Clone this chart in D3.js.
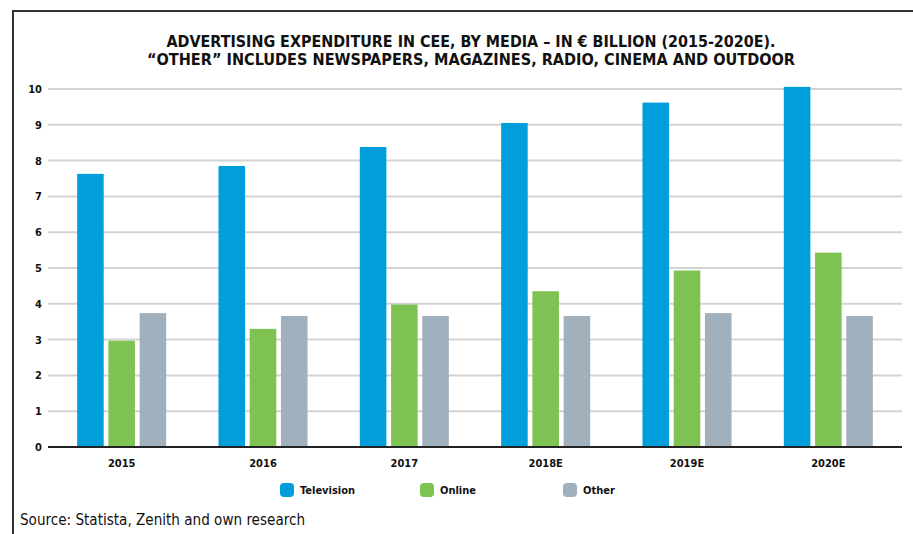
<!DOCTYPE html>
<html><head><meta charset="utf-8">
<script src="https://cdn.jsdelivr.net/npm/d3@7"></script>
<style>
html,body{margin:0;padding:0;background:#fff;}
svg{display:block;}
text{font-family:"Liberation Sans Narrow","DejaVu Sans Condensed","Roboto",sans-serif;}
</style></head>
<body>
<script>
const years = ["2015","2016","2017","2018E","2019E","2020E"];
const seriesNames = ["Television","Online","Other"];
const television = [7.63, 7.85, 8.38, 9.05, 9.62, 10.06];
const online = [2.97, 3.30, 3.98, 4.35, 4.93, 5.43];
const other = [3.74, 3.66, 3.66, 3.66, 3.74, 3.66];
const yTicks = [0,1,2,3,4,5,6,7,8,9,10];
const colors = ["#009fdb","#7dc253","#a0b1bd"];
const titleLines = ["ADVERTISING EXPENDITURE IN CEE, BY MEDIA – IN € BILLION (2015-2020E).",
                    "“OTHER” INCLUDES NEWSPAPERS, MAGAZINES, RADIO, CINEMA AND OUTDOOR"];
const sourceText = "Source: Statista, Zenith and own research";

const W = 913, H = 534;
const svg = d3.select("body").append("svg").attr("width", W).attr("height", H);

// frame
svg.append("line").attr("x1",13).attr("x2",913).attr("y1",11).attr("y2",11)
  .attr("stroke","#333").attr("stroke-width",2);
svg.append("line").attr("x1",13).attr("x2",13).attr("y1",10).attr("y2",534)
  .attr("stroke","#333").attr("stroke-width",2);

// title
const tl = [{y:47,len:609},{y:65,len:648}];
titleLines.forEach((t,i)=>{
  svg.append("text").attr("x",471).attr("y",tl[i].y).attr("text-anchor","middle")
    .attr("font-size",15).attr("font-weight","bold").attr("fill","#111")
    .attr("textLength",tl[i].len).attr("lengthAdjust","spacingAndGlyphs").text(t);
});

const gx0 = 48, gx1 = 902;
const x = d3.scaleBand().domain(years).range([51,899]).paddingInner(0.37).paddingOuter(0.185);
const xs = d3.scaleBand().domain(seriesNames).range([0,x.bandwidth()]).paddingInner(0.15).paddingOuter(0);
const y = d3.scaleLinear().domain([0,10]).range([447,89]);

// grid
svg.append("g").selectAll("line").data(yTicks.filter(d=>d>0)).join("line")
  .attr("x1",gx0).attr("x2",gx1).attr("y1",d=>y(d)).attr("y2",d=>y(d))
  .attr("stroke","#d3d3d3").attr("stroke-width",2);

// y axis labels
const yAxis = d3.axisLeft(y).tickValues(yTicks).tickSize(0).tickPadding(6);
const ya = svg.append("g").attr("transform",`translate(${gx0},0)`).call(yAxis);
ya.select(".domain").remove();
ya.selectAll("text").attr("font-size",11).attr("font-weight","bold").attr("fill","#111")
  .style("font-family",'"Liberation Sans Narrow","DejaVu Sans Condensed",sans-serif');

// bars
const data = years.map((yr,i)=>({year:yr, values:[television[i],online[i],other[i]]}));
const g = svg.append("g");
data.forEach(d=>{
  g.append("g").attr("transform",`translate(${x(d.year)},0)`)
   .selectAll("rect").data(d.values.map((v,j)=>({k:seriesNames[j],v,j}))).join("rect")
   .attr("x",e=>xs(e.k)).attr("width",xs.bandwidth())
   .attr("y",e=>y(e.v)).attr("height",e=>y(0)-y(e.v))
   .attr("fill",e=>colors[e.j]);
});

// baseline
svg.append("line").attr("x1",gx0).attr("x2",gx1).attr("y1",y(0)).attr("y2",y(0))
  .attr("stroke","#222").attr("stroke-width",2);

// x axis labels
const xAxis = d3.axisBottom(x).tickSize(0).tickPadding(12);
const xa = svg.append("g").attr("transform",`translate(0,${y(0)})`).call(xAxis);
xa.select(".domain").remove();
xa.selectAll("text").attr("font-size",11).attr("font-weight","bold").attr("fill","#111")
  .style("font-family",'"Liberation Sans Narrow","DejaVu Sans Condensed",sans-serif');

// legend
const legX = [280,420,563];
const lg = svg.append("g");
seriesNames.forEach((n,i)=>{
  lg.append("rect").attr("x",legX[i]).attr("y",483).attr("width",14).attr("height",14)
    .attr("rx",4).attr("fill",colors[i]);
  lg.append("text").attr("x",legX[i]+20).attr("y",494).attr("font-size",11)
    .attr("font-weight","bold").attr("fill","#111").text(n);
});

// source
svg.append("text").attr("x",20).attr("y",525).attr("font-size",15).attr("fill","#111")
  .attr("textLength",285).attr("lengthAdjust","spacingAndGlyphs").text(sourceText);
</script>
</body></html>
